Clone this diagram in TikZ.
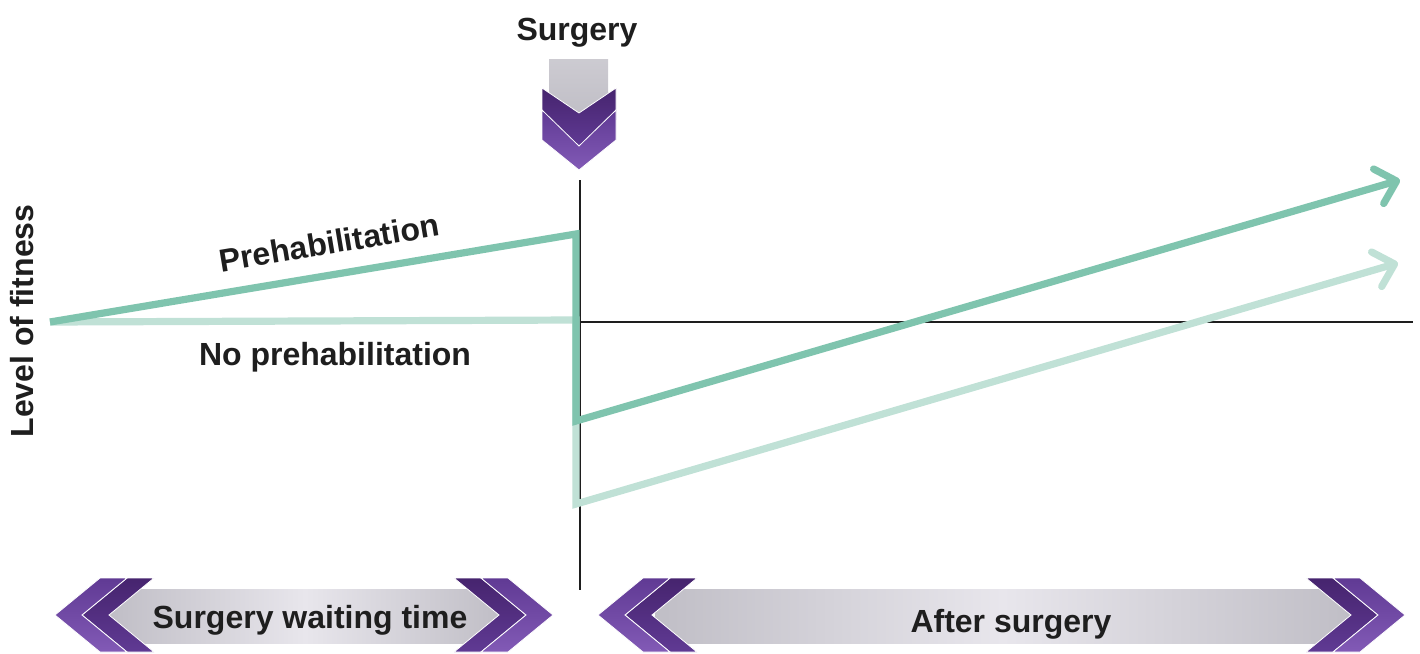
\documentclass[tikz,border=0pt]{standalone}
\usepackage{fontspec}
\setmainfont{Liberation Sans}
\usetikzlibrary{arrows.meta}
\definecolor{dgreen}{RGB}{127,196,174}
\definecolor{lgreen}{RGB}{192,225,214}
\definecolor{pdark}{RGB}{70,36,110}
\definecolor{pmid}{RGB}{96,58,148}
\definecolor{plight}{RGB}{130,90,182}
\definecolor{gedge}{RGB}{192,190,198}
\definecolor{gmid}{RGB}{232,230,236}
\definecolor{txt}{RGB}{30,30,30}
\tikzset{
  lab/.style={font=\fontsize{24}{28}\selectfont\bfseries, text=txt, inner sep=0pt},
  fitline/.style={line width=5.4pt, line join=miter},
  axisline/.style={line width=1.5pt, draw=txt},
  chevfront/.style={draw=white, line width=0.6pt, top color=pmid, bottom color=plight},
  chevback/.style={draw=white, line width=0.6pt, top color=pdark, bottom color=pmid},
  bartip/.style={-{Straight Barb[length=14pt,width=27pt,line cap=round,line join=round]}},
  graybar/.style={left color=gedge, right color=gedge, middle color=gmid}
}
\begin{document}
\begin{tikzpicture}[x=0.75pt,y=-0.75pt]
\useasboundingbox (0,0) rectangle (1420,653);
% left banner
\shade[graybar] (110,589) rectangle (500,643);
\path[chevback] (82,615) -- ++(45,-37) -- ++(27,0) -- ++(-45,37) -- ++(45,37) -- ++(-27,0) -- cycle;
\path[chevfront] (55,615) -- ++(45,-37) -- ++(27,0) -- ++(-45,37) -- ++(45,37) -- ++(-27,0) -- cycle;
\path[chevback] (526,615) -- ++(-45,-37) -- ++(-27,0) -- ++(45,37) -- ++(-45,37) -- ++(27,0) -- cycle;
\path[chevfront] (553,615) -- ++(-45,-37) -- ++(-27,0) -- ++(45,37) -- ++(-45,37) -- ++(27,0) -- cycle;
\node[lab, anchor=base] (wait) at (310,628) {Surgery waiting time};
% right banner
\shade[graybar] (655,589) rectangle (1350,643);
\path[chevback] (625,615) -- ++(45,-37) -- ++(27,0) -- ++(-45,37) -- ++(45,37) -- ++(-27,0) -- cycle;
\path[chevfront] (598,615) -- ++(45,-37) -- ++(27,0) -- ++(-45,37) -- ++(45,37) -- ++(-27,0) -- cycle;
\path[chevback] (1378,615) -- ++(-45,-37) -- ++(-27,0) -- ++(45,37) -- ++(-45,37) -- ++(27,0) -- cycle;
\path[chevfront] (1405,615) -- ++(-45,-37) -- ++(-27,0) -- ++(45,37) -- ++(-45,37) -- ++(27,0) -- cycle;
\node[lab, anchor=base] (after) at (1011,632) {After surgery};
% surgery icon
\shade[top color=gedge!80!white, bottom color=gedge] (549,59) -- (608,59) -- (608,96) -- (579,116) -- (549,96) -- cycle;
\path[chevback] (542,88) -- (579,113) -- (616,88) -- (616,120) -- (579,146) -- (542,120) -- cycle;
\path[chevfront] (542,110) -- (579,146) -- (616,110) -- (616,140) -- (579,170) -- (542,140) -- cycle;
\node[lab, anchor=base] (surg) at (577,40) {Surgery};
% axes
\coordinate (vt) at (580,180);
\coordinate (vb) at (580,590);
\coordinate (ha) at (580,322);
\coordinate (hb) at (1413,322);
\draw[axisline] (vt) -- (vb);
\draw[axisline] (ha) -- (hb);
% fitness lines
\coordinate (s) at (50,322);
\coordinate (n1) at (576,320);
\coordinate (n2) at (576,504);
\coordinate (n3) at (1398,263);
\coordinate (p1) at (576,234);
\coordinate (p2) at (576,421);
\coordinate (p3) at (1400,180);
\draw[fitline, lgreen, bartip] (s) -- (n1) -- (n2) -- (n3);
\draw[fitline, dgreen, bartip] (s) -- (p1) -- (p2) -- (p3);
% labels
\node[lab, anchor=base, rotate=9.5] (pre) at (331,254) {Prehabilitation};
\node[lab, anchor=base] (nopre) at (335,365) {No prehabilitation};
\node[lab, anchor=base, rotate=90] (fit) at (33,321) {Level of fitness};
\end{tikzpicture}
\end{document}
